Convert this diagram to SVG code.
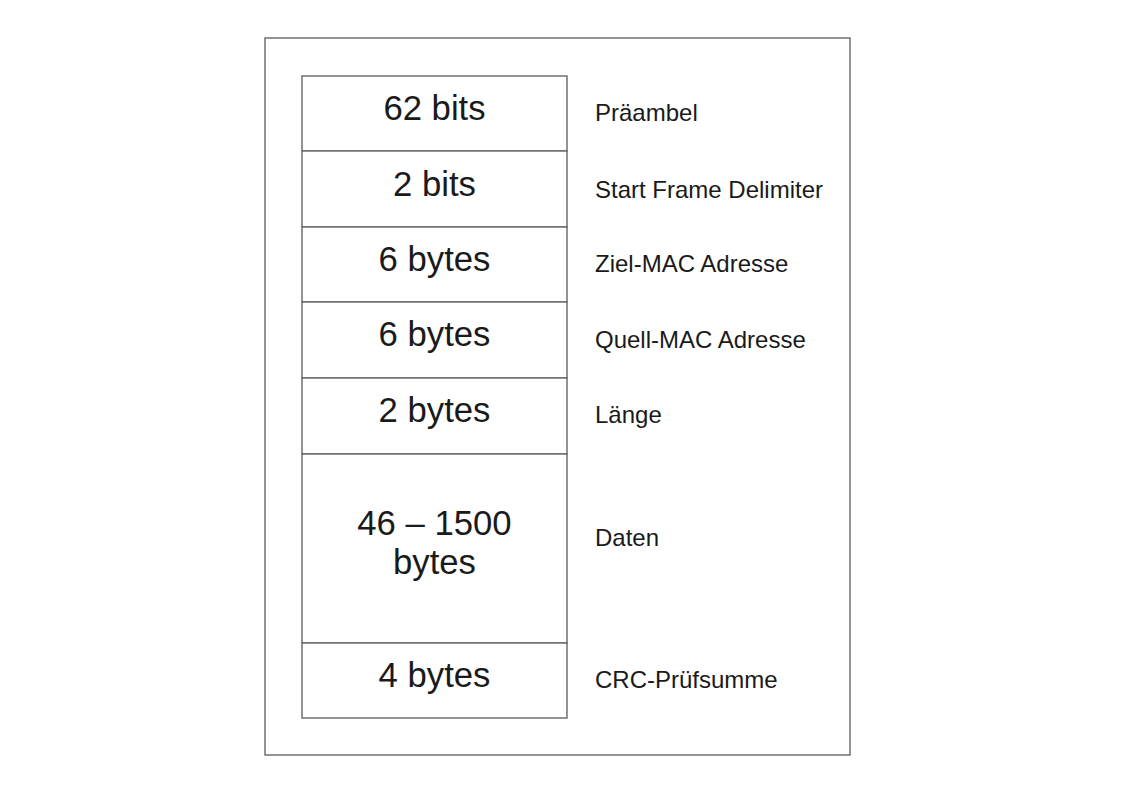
<svg xmlns="http://www.w3.org/2000/svg" width="1123" height="794" viewBox="0 0 1123 794">
<style>
.frame{fill:#fff;stroke:#666;stroke-width:1.4}
.cell{fill:#fff;stroke:#666;stroke-width:1.4}
.v{font-family:"Liberation Sans",Arial,sans-serif;font-size:34.7px;fill:#1a1a1a;text-anchor:middle}
.l{font-family:"Liberation Sans",Arial,sans-serif;font-size:24px;fill:#1a1a1a}
</style>
<rect width="1123" height="794" fill="#fff"/>
<rect class="frame" x="265" y="38" width="585" height="717"/>
<g id="row1"><rect class="cell" x="302" y="76" width="265" height="75"/><text class="v" x="434.5" y="120">62 bits</text><text class="l" x="595" y="121">Präambel</text></g>
<g id="row2"><rect class="cell" x="302" y="151" width="265" height="76"/><text class="v" x="434.5" y="196">2 bits</text><text class="l" x="595" y="198">Start Frame Delimiter</text></g>
<g id="row3"><rect class="cell" x="302" y="227" width="265" height="75"/><text class="v" x="434.5" y="271">6 bytes</text><text class="l" x="595" y="272">Ziel-MAC Adresse</text></g>
<g id="row4"><rect class="cell" x="302" y="302" width="265" height="76"/><text class="v" x="434.5" y="346">6 bytes</text><text class="l" x="595" y="348">Quell-MAC Adresse</text></g>
<g id="row5"><rect class="cell" x="302" y="378" width="265" height="76"/><text class="v" x="434.5" y="422">2 bytes</text><text class="l" x="595" y="423">Länge</text></g>
<g id="row6"><rect class="cell" x="302" y="454" width="265" height="189"/><text class="v" x="434.5" y="535">46 – 1500</text><text class="v" x="434.5" y="574">bytes</text><text class="l" x="595" y="546">Daten</text></g>
<g id="row7"><rect class="cell" x="302" y="643" width="265" height="75"/><text class="v" x="434.5" y="687">4 bytes</text><text class="l" x="595" y="688">CRC-Prüfsumme</text></g>
<g id="connectors"></g>
</svg>
